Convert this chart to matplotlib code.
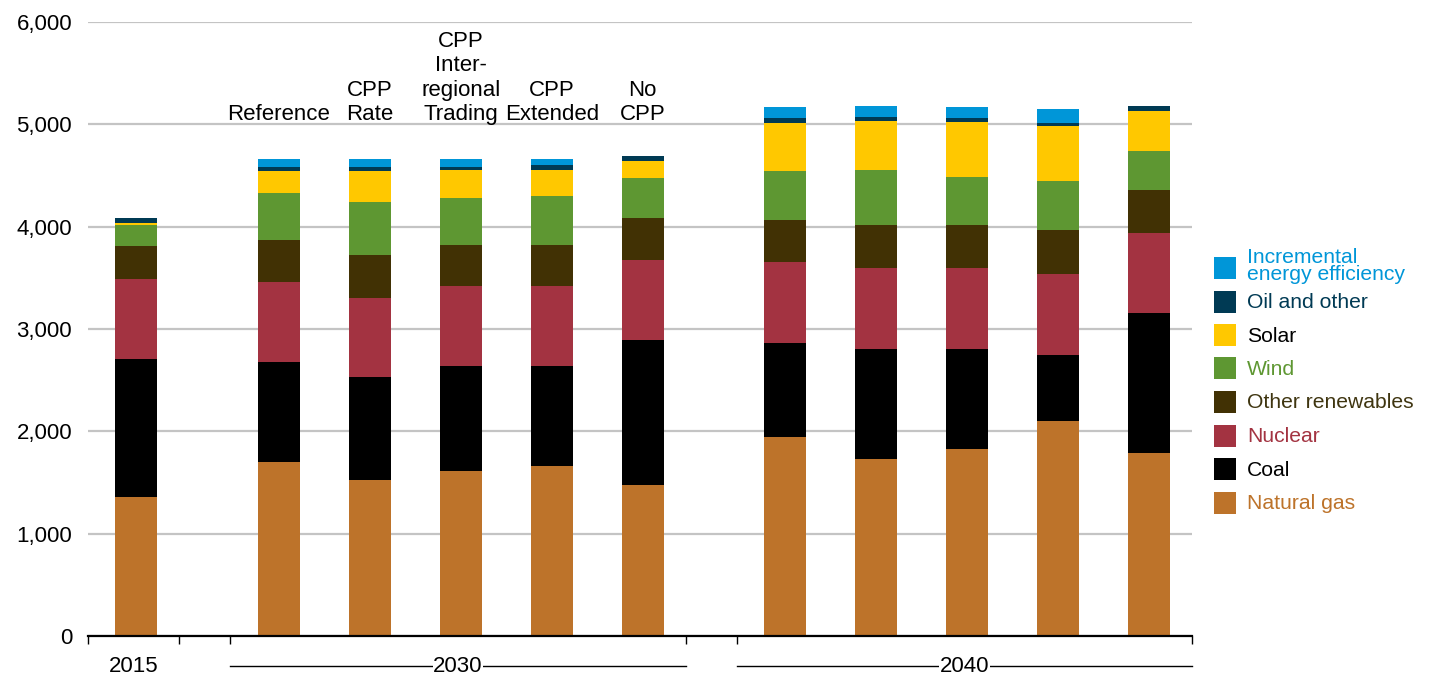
"""Stacked generation by source: 2015, 2030 scenarios and 2040 scenarios."""

import matplotlib

matplotlib.use("Agg")
import matplotlib.pyplot as plt
from matplotlib.patches import Rectangle
from matplotlib.ticker import FuncFormatter

years = ["2015", "2030", "2040"]
group_sizes = [1, 5, 5]
scenario_labels = ["", "Reference", "CPP\nRate", "CPP\nInter-\nregional\nTrading", "CPP\nExtended", "No\nCPP",
                   "", "", "", "", ""]

natural_gas = [1360, 1700, 1525, 1613, 1662, 1476, 1945, 1730, 1828, 2102, 1789]
coal = [1348, 977, 1007, 1026, 977, 1417, 919, 1075, 977, 645, 1371]
nuclear = [782, 782, 772, 782, 782, 782, 792, 792, 792, 792, 779]
other_renewables = [322, 411, 420, 401, 401, 411, 410, 421, 421, 430, 421]
wind = [206, 459, 518, 460, 479, 391, 479, 537, 469, 479, 381]
solar = [19, 215, 303, 273, 254, 166, 470, 479, 537, 537, 391]
oil_other = [49, 40, 40, 30, 49, 49, 49, 39, 40, 30, 49]
efficiency = [0, 78, 78, 78, 59, 0, 107, 108, 107, 137, 0]

series = [
    ("Natural gas", natural_gas, "#BD732A", "#BD732A"),
    ("Coal", coal, "#000000", "#000000"),
    ("Nuclear", nuclear, "#A33341", "#A33341"),
    ("Other renewables", other_renewables, "#413104", "#3F3510"),
    ("Wind", wind, "#5E9732", "#5E9732"),
    ("Solar", solar, "#FFC800", "#000000"),
    ("Oil and other", oil_other, "#003A54", "#003A54"),
    ("Incremental\nenergy efficiency", efficiency, "#0096D8", "#0096D8"),
]

W, H = 1433, 675
plt.rcParams.update({"font.family": ["Liberation Sans", "DejaVu Sans"], "font.size": 16})
fig = plt.figure(figsize=(W / 100, H / 100), dpi=100)
ax = fig.add_axes([88 / W, 39 / H, (1192 - 88) / W, 614 / H])

# x layout: groups of unit-wide slots separated by a small gap
gap = 0.565
starts, xpos = [], []
cur = 0.0
for n in group_sizes:
    starts.append(cur)
    xpos += [cur + 0.53 + i for i in range(n)]
    cur += n + gap
x_end = cur - gap

bottom = [0] * len(xpos)
for name, vals, color, _ in series:
    ax.bar(xpos, vals, width=0.46, bottom=bottom, color=color, linewidth=0, zorder=2)
    bottom = [b + v for b, v in zip(bottom, vals)]

ax.set_xlim(0, x_end)
ax.set_ylim(0, 6000)
ax.set_yticks(range(0, 6001, 1000))
ax.yaxis.set_major_formatter(FuncFormatter(lambda v, _: f"{int(v):,}"))
ax.tick_params(axis="y", length=0, pad=11.5, labelsize=16)
ax.yaxis.grid(True, color="#C4C4C4", linewidth=1.6)
ax.set_axisbelow(True)
for side in ("left", "right", "top"):
    ax.spines[side].set_visible(False)
ax.spines["bottom"].set_linewidth(1.6)

edges = []
for s, n in zip(starts, group_sizes):
    edges += [s, s + n]
ax.set_xticks(edges)
ax.set_xticklabels([])
ax.tick_params(axis="x", length=5.5, width=1, color="black", direction="out")

# scenario labels above the 2030 bars
for x, lab in zip(xpos, scenario_labels):
    if lab:
        ax.text(x, 5045, lab, ha="center", va="baseline", fontsize=16, linespacing=1.2)

# year labels under the groups
tr = ax.get_xaxis_transform()
for year, s, n in zip(years, starts, group_sizes):
    yy = -0.049
    if n > 1:
        ax.plot([s, s + n], [yy, yy], color="black", linewidth=1, transform=tr, clip_on=False)
    ax.text(s + n / 2, yy - 0.001, year, ha="center", va="center", fontsize=16, transform=tr,
            bbox=dict(facecolor="white", edgecolor="none", pad=0.3) if n > 1 else None)

# legend, drawn top-down in reverse stacking order
for i, (name, _, color, tcolor) in enumerate(reversed(series)):
    yc = 268 + 33.5 * i
    fig.add_artist(Rectangle((1214 / W, 1 - (yc + 11) / H), 22 / W, 22 / H, transform=fig.transFigure,
                             facecolor=color, edgecolor="none"))
    fig.text(1247 / W, 1 - (yc - 2 if "\n" in name else yc + 1) / H, name, color=tcolor, fontsize=15.2,
             va="center", ha="left", linespacing=0.88)

fig.savefig("out.png", dpi=100)
